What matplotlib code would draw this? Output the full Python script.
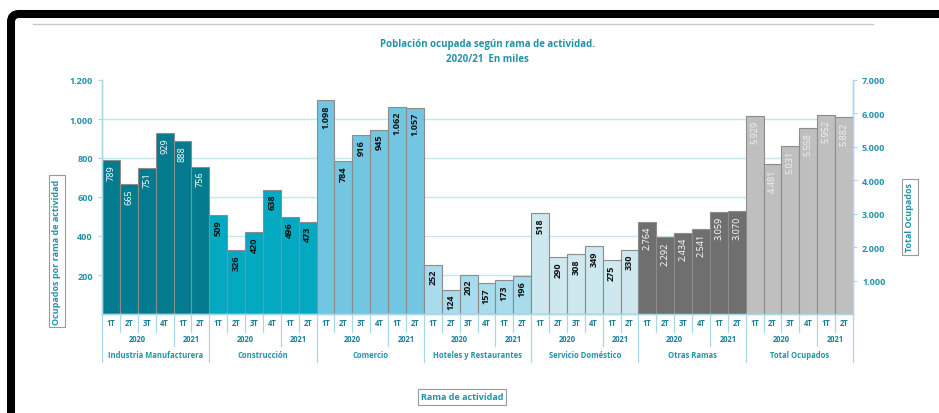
import matplotlib
matplotlib.use("Agg")
import matplotlib.pyplot as plt
from matplotlib.patches import FancyBboxPatch
from matplotlib.lines import Line2D

plt.rcParams['font.family'] = ['Open Sans', 'DejaVu Sans']

# datos (miles de personas)
ramas = ["Industria Manufacturera", "Construcción", "Comercio",
         "Hoteles y Restaurantes", "Servicio Doméstico", "Otras Ramas",
         "Total Ocupados"]
trimestres = ["1T", "2T", "3T", "4T", "1T", "2T"]
anios = ["2020", "2021"]
industria = [789, 665, 751, 929, 888, 756]
construccion = [509, 326, 420, 638, 496, 473]
comercio = [1098, 784, 916, 945, 1062, 1057]
hoteles = [252, 124, 202, 157, 173, 196]
servicio = [518, 290, 308, 349, 275, 330]
otras = [2764, 2292, 2434, 2541, 3059, 3070]      # eje derecho
total = [5929, 4481, 5031, 5558, 5952, 5882]      # eje derecho

series = [industria, construccion, comercio, hoteles, servicio, otras, total]
eje_derecho = [False, False, False, False, False, True, True]
colores = ["#047b8f", "#03a8c1", "#72c6e2", "#a8dbeb", "#cde8ef", "#6f6f6f", "#bfbfbf"]
color_etiq = ["white", "#111111", "#111111", "#111111", "#111111", "white", "#f2f2f2"]
peso_etiq = ["normal", "bold", "bold", "bold", "bold", "normal", "normal"]

TEAL = "#2193a8"
LINEA = "#a9d8e8"


def miles(v):
    return f"{v:,}".replace(",", ".")


fig = plt.figure(figsize=(9.39, 4.14), dpi=100)
ax = fig.add_axes([102 / 939, 99 / 414, 751 / 939, 234 / 414])
ax2 = ax.twinx()

ax.set_xlim(-0.5, 41.5)
ax.set_ylim(0, 1200)
ax2.set_ylim(0, 7000)

# rejilla
for y in [200, 400, 600, 800, 1000]:
    ax.axhline(y, color="#c6e6f0", lw=1.0, zorder=0)

for i, (vals, derecho) in enumerate(zip(series, eje_derecho)):
    eje = ax2 if derecho else ax
    xs = [i * 6 + k for k in range(6)]
    eje.bar(xs, vals, width=1.0, color=colores[i], edgecolor="#8c8c8c",
            linewidth=0.8, zorder=2)
    for x, v in zip(xs, vals):
        eje.annotate(miles(v), (x, v), xytext=(0, -3), textcoords="offset points",
                     rotation=90, ha="center", va="top", fontsize=6.6,
                     fontweight=peso_etiq[i], color=color_etiq[i], zorder=3)

# ejes y
ax.set_yticks([200, 400, 600, 800, 1000, 1200])
ax.set_yticklabels([miles(v) for v in [200, 400, 600, 800, 1000, 1200]])
ax2.set_yticks([1000, 2000, 3000, 4000, 5000, 6000, 7000])
ax2.set_yticklabels([miles(v) for v in [1000, 2000, 3000, 4000, 5000, 6000, 7000]])
for a in (ax, ax2):
    a.tick_params(axis="y", colors=LINEA, labelcolor=TEAL, labelsize=6.5,
                  length=3, width=0.8)
    for lab in a.get_yticklabels():
        lab.set_fontweight("bold")
    a.spines["top"].set_visible(False)
    for s in ("left", "right", "bottom"):
        a.spines[s].set_color(LINEA)
        a.spines[s].set_linewidth(1.0)
ax.set_xticks([])
ax2.set_xticks([])

# tabla de categorías bajo el eje
tr = ax.get_xaxis_transform()
px = 1 / 234
for i in range(7):
    for k in range(6):
        ax.text(i * 6 + k, -9 * px, trimestres[k], transform=tr, ha="center",
                va="center", fontsize=5.5, fontweight="bold", color="#1d7f92")
        if k > 0:
            largo = 32 if k == 4 else 18
            ax.add_line(Line2D([i * 6 + k - 0.5] * 2, [0, -largo * px], transform=tr,
                               color=LINEA, lw=0.9, clip_on=False))
    ax.text(i * 6 + 1.5, -25 * px, anios[0], transform=tr, ha="center",
            va="center", fontsize=5.5, fontweight="bold", color="#1d7f92")
    ax.text(i * 6 + 4.5, -25 * px, anios[1], transform=tr, ha="center",
            va="center", fontsize=5.5, fontweight="bold", color="#1d7f92")
    ax.text(i * 6 + 2.5, -41 * px, ramas[i], transform=tr, ha="center",
            va="center", fontsize=5.5, fontweight="bold", color=TEAL)
for i in range(8):
    ax.add_line(Line2D([i * 6 - 0.5] * 2, [0, -48 * px], transform=tr,
                       color=LINEA, lw=0.9, clip_on=False))

# títulos
fig.text(487 / 939, 1 - 45 / 414, "Población ocupada según rama de actividad.",
         ha="center", va="center", fontsize=7, fontweight="bold", color=TEAL)
fig.text(487 / 939, 1 - 60 / 414, "2020/21  En miles",
         ha="center", va="center", fontsize=7, fontweight="bold", color=TEAL)

caja = dict(boxstyle="square,pad=0.35", facecolor="white", edgecolor="#9a9a9a", lw=0.8)
fig.text(57 / 939, 1 - 252 / 414, "Ocupados por rama de actividad", rotation=90,
         ha="center", va="center", fontsize=6.5, fontweight="bold", color=TEAL, bbox=caja)
fig.text(910 / 939, 1 - 218 / 414, "Total Ocupados", rotation=90,
         ha="center", va="center", fontsize=6.5, fontweight="bold", color=TEAL, bbox=caja)
fig.text(462 / 939, 1 - 398 / 414, "Rama de actividad",
         ha="center", va="center", fontsize=6.5, fontweight="bold", color=TEAL, bbox=caja)

# línea gris superior y marco negro
fig.add_artist(Line2D([33 / 939, 873 / 939], [1 - 25 / 414] * 2, color="#c8c8c8", lw=1.0))
marco = FancyBboxPatch((0.11, -0.3), 9.6, 4.29, boxstyle="round,pad=0,rounding_size=0.08",
                       transform=fig.dpi_scale_trans, facecolor="none",
                       edgecolor="black", linewidth=5.8)
fig.add_artist(marco)

fig.savefig("out.png", dpi=100)
